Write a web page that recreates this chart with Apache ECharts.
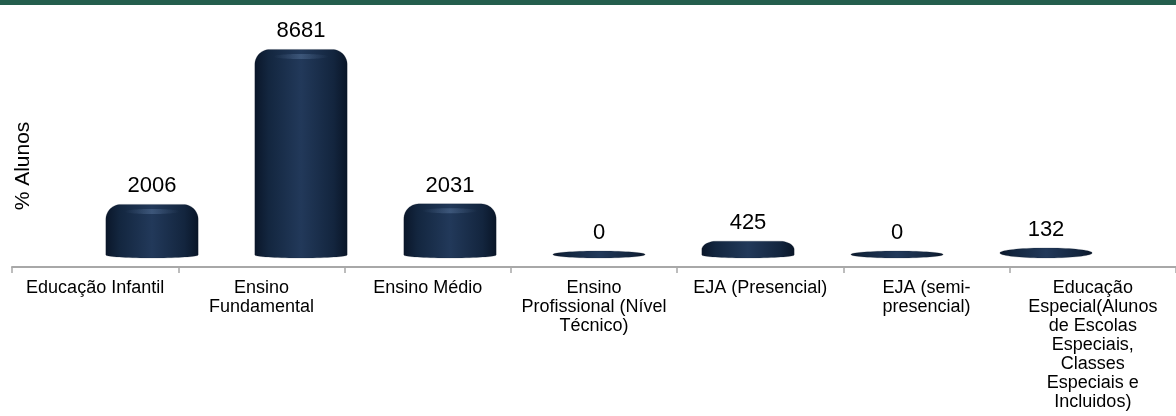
<!DOCTYPE html>
<html>
<head>
<meta charset="utf-8">
<script src="https://cdn.jsdelivr.net/npm/echarts@6/dist/echarts.min.js"></script>
<style>
  html, body { margin: 0; padding: 0; background: #ffffff; }
  #wrap { position: relative; width: 1176px; height: 416px; overflow: hidden; }
  #band { position: absolute; left: 0; top: 0; width: 1176px; height: 5px; background: #245e4d; z-index: 2; }
  #chart { position: absolute; left: 0; top: 0; width: 1176px; height: 416px; }
</style>
</head>
<body>
<div id="wrap"><div id="band"></div><div id="chart"></div></div>
<script>
// ---- data ----
const categories = [
  'Educação Infantil',
  'Ensino\nFundamental',
  'Ensino Médio',
  'Ensino\nProfissional (Nível\nTécnico)',
  'EJA (Presencial)',
  'EJA (semi-\npresencial)',
  'Educação\nEspecial(Alunos\nde Escolas\nEspeciais,\nClasses\nEspeciais e\nIncluidos)'
];
const alunos = [2006, 8681, 2031, 0, 425, 0, 132];
const yAxisTitle = '% Alunos';

const FONT = '"Liberation Sans", Arial, Helvetica, sans-serif';
const chart = echarts.init(document.getElementById('chart'), null, { renderer: 'canvas' });

const bodyGradient = new echarts.graphic.LinearGradient(0, 0, 1, 0, [
  { offset: 0, color: '#0a1629' },
  { offset: 0.15, color: '#13263f' },
  { offset: 0.5, color: '#22395a' },
  { offset: 0.85, color: '#13253e' },
  { offset: 1, color: '#091527' }
]);
const shineGradient = new echarts.graphic.LinearGradient(0, 0, 1, 0, [
  { offset: 0, color: 'rgba(110,140,180,0)' },
  { offset: 0.5, color: 'rgba(110,140,180,0.35)' },
  { offset: 1, color: 'rgba(110,140,180,0)' }
]);

function cylinderPoints(L, R, T, B) {
  const w = R - L, h = B - T, cx = (L + R) / 2;
  const pts = [];
  if (h < 12) {
    const rx = w / 2, ry = h / 2, cy = (T + B) / 2;
    for (let k = 0; k < 72; k++) {
      const t = (k / 72) * Math.PI * 2;
      pts.push([cx + rx * Math.cos(t), cy + ry * Math.sin(t)]);
    }
    return pts;
  }
  const ky = Math.min(15, h / 2), kx = 15, d = Math.min(3, h / 4);
  for (let k = 0; k <= 14; k++) {
    const t = (k / 14) * Math.PI / 2;
    pts.push([L + kx - kx * Math.cos(t), T + ky - ky * Math.sin(t)]);
  }
  for (let k = 14; k >= 0; k--) {
    const t = (k / 14) * Math.PI / 2;
    pts.push([R - kx + kx * Math.cos(t), T + ky - ky * Math.sin(t)]);
  }
  for (let k = 0; k <= 36; k++) {
    const t = (k / 36) * Math.PI;
    pts.push([cx + (w / 2) * Math.cos(t), B - d + d * Math.sin(t)]);
  }
  return pts;
}

function renderCylinder(params, api) {
  const i = api.value(0), v = api.value(1);
  const top = api.coord([i, v]);
  const base = api.coord([i, 0]);
  const band = api.size([1, 0])[0];
  const w = band * 0.62;
  const cx = top[0];
  const L = cx - w / 2, R = cx + w / 2;
  const T = top[1] - 3.5, B = base[1] + 3.5;
  const children = [{
    type: 'polygon',
    shape: { points: cylinderPoints(L, R, T, B) },
    style: { fill: bodyGradient, stroke: 'rgba(10,20,40,0.3)', lineWidth: 0.6 }
  }];
  if (B - T > 30) {
    children.push({
      type: 'ellipse',
      shape: { cx: cx, cy: T + 7, rx: w * 0.3, ry: 2.5 },
      style: { fill: shineGradient }
    });
  }
  children.push({
    type: 'text',
    x: cx,
    y: T - 7,
    style: {
      text: String(v),
      align: 'center',
      verticalAlign: 'bottom',
      fill: '#000000',
      font: '22px ' + FONT
    }
  });
  return { type: 'group', children: children };
}

chart.setOption({
  animation: false,
  backgroundColor: '#ffffff',
  grid: [
    { left: 12, top: 65, width: 1171, height: 202, containLabel: false },
    { left: 77.5, top: 22.3, width: 1043, height: 232.2, containLabel: false }
  ],
  xAxis: [
    {
      gridIndex: 0,
      type: 'category',
      data: categories,
      boundaryGap: true,
      axisLine: { show: true, lineStyle: { color: '#a8a8a8', width: 2 } },
      axisTick: { show: true, length: 6, interval: 0, lineStyle: { color: '#a8a8a8', width: 1.5 } },
      axisLabel: {
        interval: 0, margin: 12, color: '#000000',
        fontSize: 18, lineHeight: 19, fontFamily: FONT, align: 'center'
      },
      splitLine: { show: false }
    },
    {
      gridIndex: 1,
      type: 'category',
      data: categories,
      show: false
    }
  ],
  yAxis: [
    {
      gridIndex: 0,
      type: 'value',
      min: 0, max: 1,
      axisLine: { show: false },
      axisTick: { show: false },
      axisLabel: { show: false },
      splitLine: { show: false },
      name: yAxisTitle,
      nameLocation: 'middle',
      nameRotate: 90,
      nameGap: -22,
      nameTextStyle: { fontSize: 21, color: '#000000', fontFamily: FONT }
    },
    {
      gridIndex: 1,
      type: 'value',
      min: 0, max: 10000,
      show: false
    }
  ],
  series: [{
    type: 'custom',
    xAxisIndex: 1,
    yAxisIndex: 1,
    renderItem: renderCylinder,
    data: alunos.map((v, i) => [i, v]),
    clip: false
  }]
});
</script>
</body>
</html>
